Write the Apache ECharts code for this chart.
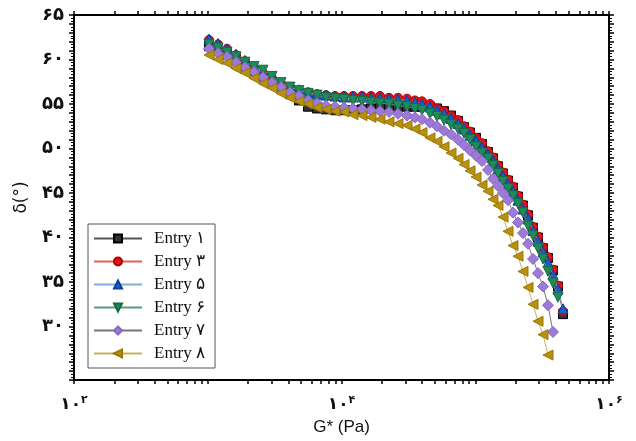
<!DOCTYPE html>
<html><head><meta charset="utf-8">
<script src="https://cdn.jsdelivr.net/npm/echarts@6/dist/echarts.min.js"></script>
<style>html,body{margin:0;padding:0;background:#fff}#c{width:636px;height:441px}</style>
</head><body><div id="c"></div>
<script>
// G* (Pa)
const gStar = [1022,1193,1393,1626,1899,2217,2589,3022,3529,4121,4811,5617,6559,7658,8941,10440,12190,14230,16620,19410,22650,26450,30890,35430,39990,45880,51760,58410,65890,74310,82400,91360,101300,112300,124600,135700,147900,161300,175800,191500,208700,227500,248000,270300,294600,321000,349900,381400,415700,453000];
// delta (deg)
const entry1 = [61.5,61.0,60.5,59.9,59.2,58.7,58.0,57.4,56.8,56.1,55.4,54.7,54.5,54.4,54.3,54.3,54.3,54.4,54.5,54.6,54.6,54.7,54.7,54.7,54.7,54.7,54.5,54.2,53.7,53.1,52.4,51.8,51.2,50.5,49.6,48.9,48.0,47.2,46.4,45.6,44.6,43.6,42.5,41.1,40.0,38.8,37.7,36.3,34.5,31.4];
const entry3 = [62.2,61.7,61.2,60.5,59.8,59.1,58.5,57.9,57.3,56.9,56.5,56.3,56.1,56.0,55.9,55.9,55.9,55.9,55.9,55.9,55.7,55.7,55.6,55.4,55.3,55.0,54.5,54.2,53.7,53.2,52.5,51.9,51.2,50.6,49.7,49.0,48.1,47.3,46.5,45.7,44.7,43.7,42.6,41.2,40.1,38.9,37.8,36.4,34.6,31.7];
const entry5 = [62.3,61.8,61.2,60.6,59.9,59.2,58.5,57.9,57.4,56.9,56.6,56.3,56.1,56.0,55.9,55.8,55.8,55.8,55.7,55.7,55.6,55.5,55.4,55.2,55.0,54.7,54.3,53.9,53.4,52.8,52.2,51.5,50.9,50.1,49.3,48.6,47.7,46.9,46.0,45.2,44.2,43.2,42.1,40.8,39.6,38.4,37.2,35.8,34.2,32.0];
const entry6 = [61.7,61.3,60.8,60.3,59.7,59.2,58.8,58.1,57.4,56.9,56.5,56.2,56.0,55.7,55.6,55.5,55.4,55.3,55.2,55.1,55.0,54.8,54.7,54.5,54.3,53.9,53.6,53.2,52.7,52.2,51.7,51.0,50.2,49.5,48.9,48.1,47.2,46.3,45.5,44.7,43.8,42.8,41.3,40.2,38.8,37.6,36.2,34.9,33.3];
const entry7 = [61.2,60.7,60.3,59.7,59.1,58.6,58.0,57.4,56.9,56.3,55.9,55.4,55.1,54.8,54.7,54.6,54.5,54.4,54.3,54.2,54.1,53.9,53.7,53.5,53.3,52.9,52.5,52.0,51.6,51.0,50.4,49.8,49.2,48.6,47.6,46.6,45.8,45.0,44.2,42.8,41.7,40.5,39.3,37.6,36.0,34.5,32.4,29.4];
const entry8 = [60.5,60.0,59.6,59.0,58.5,57.9,57.3,56.8,56.2,55.7,55.3,55.0,54.6,54.4,54.2,54.1,53.8,53.7,53.5,53.3,53.0,52.8,52.6,52.2,51.8,51.2,50.8,50.2,49.5,48.9,48.2,47.5,46.8,45.9,45.2,44.3,43.6,42.3,40.7,39.1,37.9,36.2,34.4,32.5,30.6,29.1,26.8];
const names = ['Entry ۱','Entry ۳','Entry ۵','Entry ۶','Entry ۷','Entry ۸'];
const yLabels = [30,35,40,45,50,55,60,65];
const xLabels = [100,10000,1000000];

const fa = s => String(s).replace(/[0-9]/g, d => '۰۱۲۳۴۵۶۷۸۹'[d]);
const xTicks = [];
[100,1000,10000,100000].forEach(d => { for (let k=1;k<10;k++) xTicks.push(d*k); });
xTicks.push(1000000);
const supMap = {100:'۲',10000:'۴',1000000:'۶'};

const styles = [
  {sym:'rect', rot:0, color:'#333333', border:'#000', line:'#555555', size:9},
  {sym:'circle', rot:0, color:'#e0141e', border:'#b00000', line:'#e06060', size:9},
  {sym:'triangle', rot:0, color:'#1a5fc8', border:'#0d3f9a', line:'#7fb0e0', size:10},
  {sym:'triangle', rot:180, color:'#1e8c5a', border:'#146a42', line:'#5a9a7a', size:10},
  {sym:'diamond', rot:0, color:'#9d79d8', border:'#8a66c4', line:'#777777', size:11},
  {sym:'triangle', rot:90, color:'#b8900c', border:'#9a7808', line:'#c8b060', size:10}
];
const vals = [entry1, entry3, entry5, entry6, entry7, entry8];

const series = vals.map((v,i) => ({
  name: names[i], type:'line', xAxisIndex:0, yAxisIndex:0,
  data: v.map((y,j) => [gStar[j], y]),
  symbol: styles[i].sym, symbolRotate: styles[i].rot, symbolSize: styles[i].size,
  showAllSymbol: true,
  itemStyle: {color: styles[i].color, borderColor: styles[i].border, borderWidth: 1},
  lineStyle: {color: styles[i].line, width: 1},
  z: 2 + i
}));

const xCommon = {
  type:'log', logBase:10, min:100, max:1000000,
  axisLine:{show:true, lineStyle:{color:'#000', width:2}},
  splitLine:{show:false}, minorTick:{show:false},
  axisTick:{show:true, customValues:xTicks, length:4, lineStyle:{color:'#000', width:1.5}}
};
const yCommon = {
  type:'value', min:24, max:65, interval:1,
  axisLine:{show:true, lineStyle:{color:'#000', width:2}},
  splitLine:{show:false},
  axisTick:{show:true, length:5, lineStyle:{color:'#000', width:1.5}},
  minorTick:{show:true, splitNumber:3, length:3, lineStyle:{color:'#000', width:1}}
};

const chart = echarts.init(document.getElementById('c'), null, {renderer:'canvas'});
chart.setOption({
  animation:false,
  backgroundColor:'#fff',
  grid:{left:74, right:27, top:15, bottom:60},
  xAxis:[
    Object.assign({}, xCommon, {
      position:'bottom',
      name:'G* (Pa)', nameLocation:'middle', nameGap:39,
      nameTextStyle:{fontFamily:'Liberation Sans, Arial', fontSize:17, color:'#111'},
      axisLabel:{show:true, customValues:xLabels, margin:15,
        formatter: v => '{b|۱۰}{s|' + supMap[v] + '}',
        rich:{b:{fontFamily:'DejaVu Sans', fontSize:17, fontWeight:'bold', color:'#111', lineHeight:20},
              s:{fontFamily:'DejaVu Sans', fontSize:11, fontWeight:'bold', color:'#111', verticalAlign:'top', lineHeight:20}}}
    }),
    Object.assign({}, xCommon, {position:'top', axisLabel:{show:false}})
  ],
  yAxis:[
    Object.assign({}, yCommon, {
      position:'left',
      name:'δ(°)', nameLocation:'middle', nameGap:44, nameRotate:90,
      nameTextStyle:{fontFamily:'DejaVu Sans', fontSize:17, color:'#111'},
      axisLabel:{show:true, customValues:yLabels, margin:10,
        formatter: v => fa(v),
        fontFamily:'DejaVu Sans', fontSize:18, fontWeight:'bold', color:'#111'}
    }),
    Object.assign({}, yCommon, {position:'right', axisLabel:{show:false}})
  ],
  legend:{
    show:true, orient:'vertical', left:88, top:224,
    data: names,
    itemWidth:48, itemHeight:10, itemGap:6,
    padding:[6,10,6,5],
    borderColor:'#555', borderWidth:1, backgroundColor:'#fff',
    textStyle:{fontFamily:'Liberation Serif, Times New Roman', fontSize:17, color:'#111', lineHeight:17, padding:[0,0,0,7]}
  },
  series: series
});
</script>
</body></html>
